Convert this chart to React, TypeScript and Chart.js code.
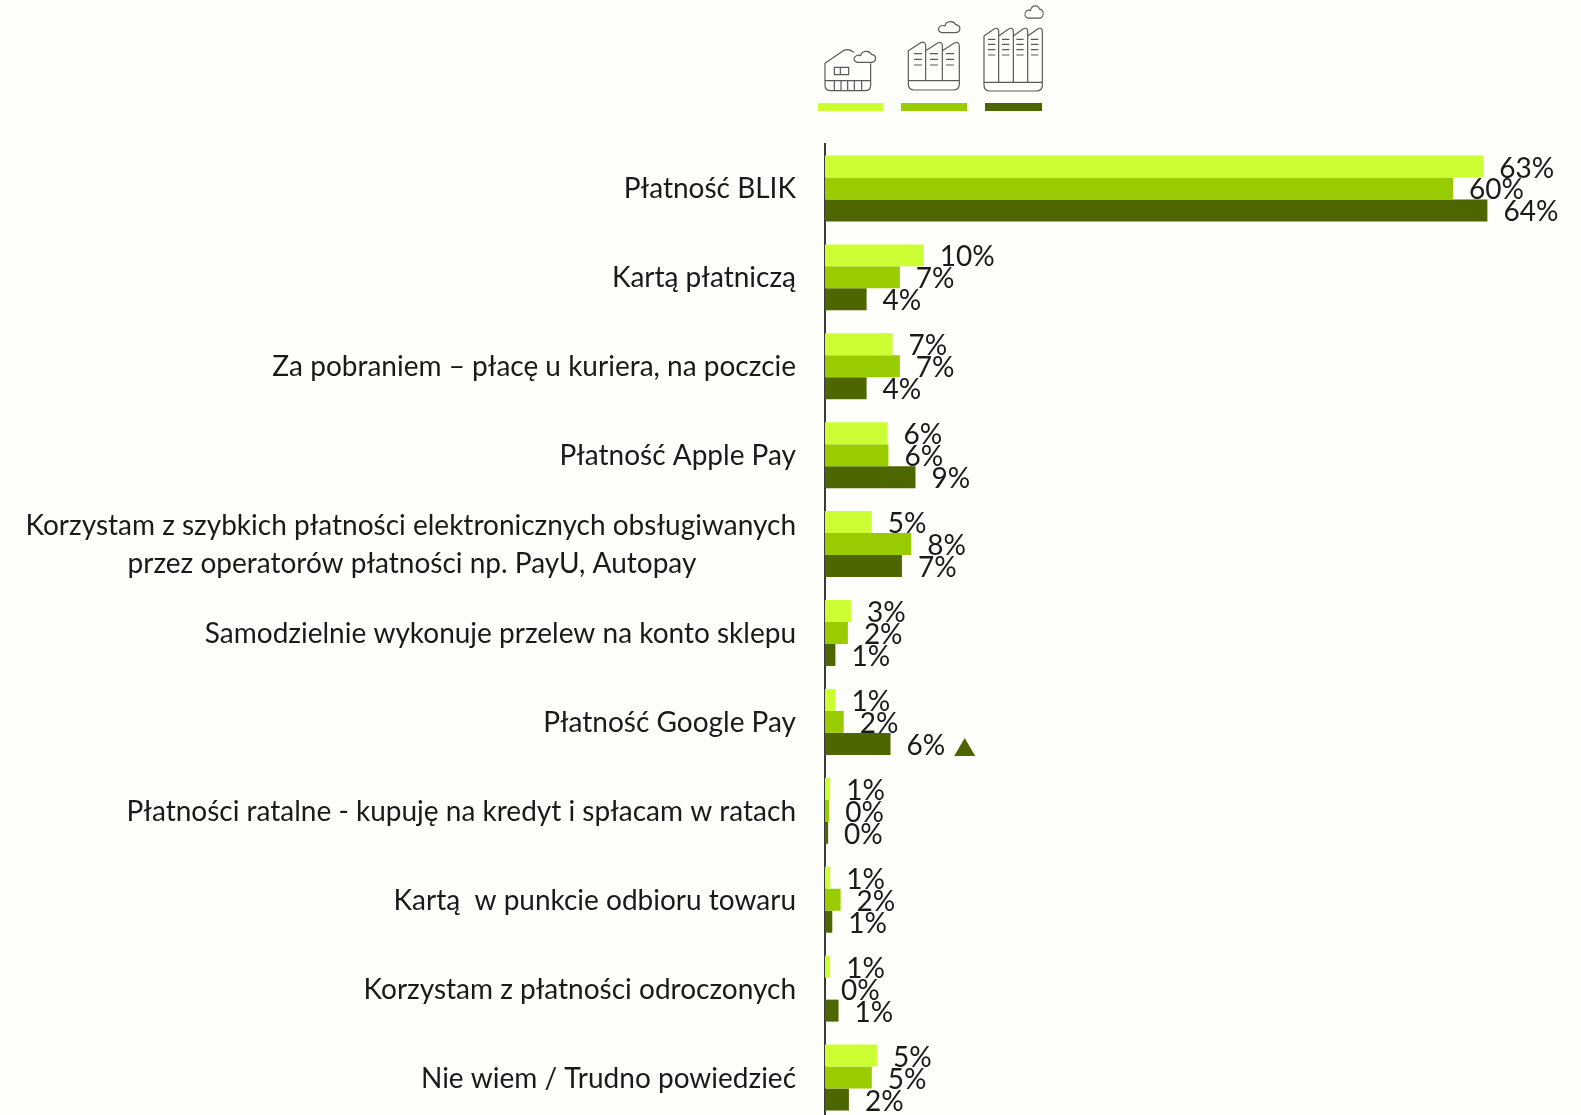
import React, { useEffect, useRef } from "react";
import { Chart, registerables } from "chart.js";

Chart.register(...registerables);

const categories: (string | string[])[] = [
  "Płatność BLIK",
  "Kartą płatniczą",
  "Za pobraniem – płacę u kuriera, na poczcie",
  "Płatność Apple Pay",
  ["Korzystam z szybkich płatności elektronicznych obsługiwanych", "przez operatorów płatności np. PayU, Autopay" + "\u00a0".repeat(14)],
  "Samodzielnie wykonuje przelew na konto sklepu",
  "Płatność Google Pay",
  "Płatności ratalne - kupuję na kredyt i spłacam w ratach",
  "Kartą  w punkcie odbioru towaru",
  "Korzystam z płatności odroczonych",
  "Nie wiem / Trudno powiedzieć",
];

const smallValues = [63.3, 9.5, 6.5, 6.0, 4.5, 2.5, 1.0, 0.5, 0.5, 0.5, 5.0];
const mediumValues = [60.4, 7.2, 7.2, 6.1, 8.3, 2.2, 1.8, 0.4, 1.5, 0.0, 4.5];
const largeValues = [63.7, 4.0, 4.0, 8.7, 7.4, 1.0, 6.3, 0.3, 0.7, 1.3, 2.3];

const smallLabels = ["63%", "10%", "7%", "6%", "5%", "3%", "1%", "1%", "1%", "1%", "5%"];
const mediumLabels = ["60%", "7%", "7%", "6%", "8%", "2%", "2%", "0%", "2%", "0%", "5%"];
const largeLabels = ["64%", "4%", "4%", "9%", "7%", "1%", "6%", "0%", "1%", "1%", "2%"];

const colors = ["#CCFF33", "#99CC00", "#4D6600"];
const labelSets = [smallLabels, mediumLabels, largeLabels];
const FONT = "Lato";

const valueLabels = {
  id: "valueLabels",
  afterDatasetsDraw(chart: any) {
    const ctx = chart.ctx;
    ctx.save();
    ctx.font = `28px ${FONT}`;
    ctx.textBaseline = "middle";
    ctx.textAlign = "left";
    chart.data.datasets.forEach((_: any, d: number) => {
      chart.getDatasetMeta(d).data.forEach((bar: any, i: number) => {
        const text = labelSets[d][i];
        const x = bar.x + 16;
        const y = bar.y + 2;
        ctx.fillStyle = "#1a1a1a";
        ctx.fillText(text, x, y);
        if (d === 2 && i === 6) {
          const w = ctx.measureText(text).width;
          const lx = x + w + 9;
          ctx.fillStyle = colors[2];
          ctx.beginPath();
          ctx.moveTo(lx, y + 10);
          ctx.lineTo(lx + 21, y + 10);
          ctx.lineTo(lx + 10.5, y - 8);
          ctx.closePath();
          ctx.fill();
        }
      });
    });
    ctx.restore();
  },
};

const cloud = "M172,187 H212 C230,187 232,165 214,163 C208,150 185,151 182,167 C166,160 152,182 172,187 Z";

const dashes = (xs: number[], ys: number[], w: number) =>
  xs.flatMap((x) => ys.map((y) => `M${x},${y} h${w}`)).join(" ");

function Icons() {
  return (
    <svg
      width={1581}
      height={130}
      style={{ position: "absolute", left: 0, top: 0 }}
    >
      <g transform="translate(800,0) scale(0.33333)" fill="none" stroke="#5a5a5a" strokeWidth={3.6} strokeLinejoin="round">
        <path d="M212,190 V255 Q212,272 195,272 H92 Q75,272 75,255 V190 L132,151 Q148,144 162,158" />
        <path d="M75,242 H212 M103,242 V272 M123,242 V272 M143,242 V272 M163,242 V272 M185,242 V272" />
        <path d="M103,202 H146 V224 H103 Z M121,202 V224" />
        <path d={cloud} />
        <path d="M325,242 V152 L362,128 Q377,122 377,138 V242 M377,152 L412,130 Q427,122 427,138 V242 M427,152 L462,130 Q478,122 478,138 V242" />
        <path d="M325,242 H478 V252 Q478,270 460,270 H343 Q325,270 325,252 Z" />
        <path d={dashes([342, 390, 438], [161, 178, 195], 24)} />
        <path d={cloud} transform="translate(253,-89)" />
        <path d="M552,247 V108 L582,87 Q596,80 596,95 V247 M596,108 L626,87 Q640,80 640,95 V247 M640,108 L669,87 Q683,80 683,95 V247 M683,108 L713,87 Q727,80 727,95 V247" />
        <path d="M552,247 H727 V255 Q727,273 709,273 H570 Q552,273 552,255 Z" />
        <path d={dashes([564, 606, 649, 693], [118, 133, 149, 165], 22)} />
        <path d={cloud} transform="translate(537,-155) scale(0.85,1.12)" />
      </g>
      <rect x={818} y={103} width={65} height={8} fill={colors[0]} />
      <rect x={901} y={103} width={66} height={8} fill={colors[1]} />
      <rect x={985} y={103} width={57} height={8} fill={colors[2]} />
    </svg>
  );
}

export default function App() {
  const ref = useRef<HTMLCanvasElement>(null);
  useEffect(() => {
    document.body.style.margin = "0";
    const chart = new Chart(ref.current!, {
      type: "bar",
      data: {
        labels: categories as any,
        datasets: [smallValues, mediumValues, largeValues].map((data, i) => ({
          data,
          backgroundColor: colors[i],
          borderWidth: 0,
          categoryPercentage: 0.7416,
          barPercentage: 1,
        })),
      },
      plugins: [valueLabels],
      options: {
        indexAxis: "y",
        animation: false,
        responsive: false,
        maintainAspectRatio: false,
        layout: { padding: { top: 144, left: 0, right: 0, bottom: 0 } },
        plugins: { legend: { display: false }, tooltip: { enabled: false } },
        scales: {
          x: { display: false, min: 0, max: 72.7, grid: { display: false } },
          y: {
            afterFit: (s: any) => {
              s.width = 825;
              s.paddingTop = 0;
              s.paddingBottom = 0;
            },
            grid: { display: false, drawTicks: false },
            border: { display: true, color: "#3a3a3a", width: 2 },
            ticks: {
              autoSkip: false,
              padding: 29,
              labelOffset: 1,
              color: "#1a1a1a",
              font: { family: FONT, size: 28, lineHeight: 1.36 },
            },
          },
        },
      },
    } as any);
    return () => chart.destroy();
  }, []);
  return (
    <div style={{ position: "absolute", left: 0, top: 0, width: 1581, height: 1115, overflow: "hidden", background: "#FEFFFA" }}>
      <canvas ref={ref} width={1581} height={1122} style={{ position: "absolute", left: 0, top: 0 }} />
      <Icons />
    </div>
  );
}
